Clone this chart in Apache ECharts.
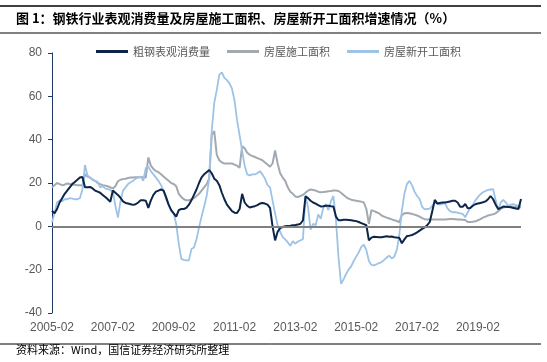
<!DOCTYPE html>
<html><head><meta charset="utf-8">
<script src="https://cdn.jsdelivr.net/npm/echarts@6/dist/echarts.min.js"></script>
<style>html,body{margin:0;padding:0;background:#fff}#c{width:547px;height:362px}</style>
</head><body><div id="c"></div><script>
// Monthly categories, 2005-02 .. 2020-07
const startYear = 2005, startMonth = 2, monthCount = 186;
const categories = [];
for (let i = 0; i < monthCount; i++) {
  const m = startMonth - 1 + i;
  const y = startYear + Math.floor(m / 12);
  const mm = (m % 12) + 1;
  categories.push(y + '-' + (mm < 10 ? '0' + mm : mm));
}
const seriesNames = ['粗钢表观消费量', '房屋施工面积', '房屋新开工面积'];
const yTicks = [-40, -20, 0, 20, 40, 60, 80];

const steel = [
7.2, 6, 8, 11, 13, 15, 16.5, 18, 19.5, 20.5,
21.5, 22.5, 22.8, 18, 18, 18.2, 17.5, 16.5, 16, 15.5,
14.5, 13.5, 12.5, 11.3, 16.5, 15.5, 14.5, 13.2, 11.5, 10.8,
10.5, 10.2, 9.9, 10.2, 11, 12, 12, 11.8, 8.5, 12,
14.5, 16, 16.5, 17, 16.5, 13.5, 10, 7.5, 6, 4.5,
7.5, 8, 8, 8.5, 10, 12, 14.5, 17, 20, 22.6,
24, 25, 26, 24.5, 22, 21, 19, 15.5, 12.5, 10,
8.5, 7, 6.3, 6.2, 8, 15, 11, 9.5, 8.7, 9,
9.3, 9.8, 10.5, 10.8, 10.5, 10, 8.5, 0, -6.5, -2.5,
-0.8, -0.3, 0, 0.2, 0.3, 0.5, 0.6, 0.8, 1.2, 2.8,
13.8, 13, 11.8, 11, 10.5, 9.8, 9.2, 9.3, 9.5, 9.5,
9.3, 9.2, 4.5, 2.8, 2.8, 3, 3, 2.9, 2.8, 2.6,
2.4, 2, 1.5, 1, 0.5, -6.5, -5.2, -4.8, -4.9, -5,
-5, -4.8, -4.6, -4.8, -4.7, -5, -5.2, -5.3, -7.8, -6,
-4.5, -4.3, -4, -3.5, -2.8, -2, -1.2, -0.5, 0.5, 2,
7, 12.2, 10.5, 10.8, 11, 11, 11.2, 11.5, 11.8, 11.8,
11, 9, 9, 10.3, 8.3, 8.5, 9.5, 10.2, 10.5, 10.8,
11.1, 11.5, 12.5, 14, 12.5, 10, 8, 8.5, 9.1, 9,
8.9, 8.8, 8.5, 8.2, 8, 12.6
];
const underConstruction = [
18, 19, 20, 19.5, 19, 19.2, 19.8, 19.5, 19.3, 19.2,
19, 19, 18.8, 24, 23, 22.5, 21.5, 21, 20, 19.5,
19, 18.8, 18.5, 18, 17.5, 18.5, 20.8, 21.5, 21.8, 22,
22.3, 22.5, 22.5, 22.7, 22.7, 22.8, 22.6, 22.5, 31.8, 28,
26.5, 25.5, 25, 24, 23, 22, 21, 20, 19.5, 18.5,
15, 13.5, 12.5, 12, 12, 12.5, 13, 14, 15, 16.5,
18, 19.5, 22, 42, 44, 33, 30.5, 29.5, 29, 29,
29, 29, 28.5, 28, 27, 37, 36, 34, 33, 32.5,
32, 31.5, 31, 30.5, 29.5, 28.5, 27.5, 29, 35, 29,
24.5, 22.5, 21, 18, 16, 15, 13.8, 13.5, 14, 14.5,
15.5, 16.5, 17, 16.8, 16.5, 16, 15.7, 15.8, 16, 16.2,
16.3, 16.5, 16.5, 16.3, 15.5, 14.5, 13.5, 12.8, 12.3, 12,
11.8, 11.6, 11.4, 11, 8, 1.1, 7.5, 7, 6.5, 6,
5, 4.5, 4, 3.6, 3.2, 2.8, 2.5, 1.8, 5.2, 6,
6.2, 6, 5.7, 5.4, 5, 4.5, 3.8, 3.3, 3.2, 3.1,
3.1, 3.2, 3.2, 3.1, 3.1, 3.2, 3.3, 3.4, 3.4, 3.3,
3.2, 3.1, 3, 2.9, 2, 2, 2.1, 2.3, 2.8, 3.3,
4, 4.5, 5, 5.3, 5.6, 6, 7, 8, 8.7, 8.9,
9, 9.1, 9, 8.9, 8.8, 8.8
];
const newStarts = [
1.9, 6, 11, 12, 11.5, 12.5, 12.5, 13, 12.8, 12.5,
12.5, 13, 17, 28.3, 23.5, 22.5, 21.5, 21, 20.5, 18,
18.5, 17.5, 17.2, 16.8, 16, 9.5, 4, 11.5, 16.5, 18,
19.5, 20.3, 21, 22, 22.5, 23, 21, 27, 27.5, 25.5,
24, 22.5, 21, 19, 16.5, 12.5, 10, 7.2, 6, 1,
-8, -15, -15.5, -15.7, -15.7, -10.5, -9.8, -6, -0.5, 4.5,
9, 14, 22, 44, 57, 63, 70, 71, 68.5, 67.5,
66, 63.5, 58, 49, 42, 35, 28, 24, 23.5, 24,
24, 24.5, 25.5, 24, 22, 19, 18, 12, 6, 0.5,
-2.5, -5, -6, -7.4, -9, -6.8, -8, -7, -6.5, -5.8,
14.2, 8.8, -1.5, 1.2, 0.5, 5.5, 3.5, 8.5, 10.3, 7.5,
11.5, 14, 3, -14, -26.5, -24.5, -22, -20, -18.5, -16,
-14, -12, -9.5, -8.5, -11, -16, -17.8, -18, -17.5, -17,
-16.5, -15.5, -14.5, -13.5, -14.8, -14, -11, -4, 7, 15,
19.5, 21, 19, 16, 14, 12.6, 9, 7.8, 8, 8.2,
9.5, 11, 10.5, 10, 10.3, 10.7, 8.3, 7, 6.5, 6.5,
6.3, 6, 5.7, 4.2, 6.5, 8.5, 10, 12, 13.5, 14.8,
15.7, 16.3, 16.8, 17, 17.2, 12, 7.5, 11, 12.2, 11,
9.5, 10, 10.3, 9.8, 9.3, 10
];

const chart = echarts.init(document.getElementById('c'), null, {renderer: 'canvas'});
const sans = '"Liberation Sans", Arial, sans-serif';
const cjk = '"Noto Sans CJK SC", sans-serif';
chart.setOption({
  animation: false,
  backgroundColor: '#ffffff',
  graphic: [
    {type: 'line', shape: {x1: 0, y1: 6, x2: 541, y2: 6}, style: {stroke: '#000', lineWidth: 1.5}},
    {type: 'line', shape: {x1: 0, y1: 33, x2: 541, y2: 33}, style: {stroke: '#000', lineWidth: 1}},
    {type: 'text', left: 16, top: 12, style: {text: '图 1：钢铁行业表观消费量及房屋施工面积、房屋新开工面积增速情况（%）', font: 'bold 13px "Noto Sans CJK SC", sans-serif', fill: '#000'}},
    {type: 'line', shape: {x1: 0, y1: 344, x2: 541, y2: 344}, style: {stroke: '#000', lineWidth: 1}},
    {type: 'text', left: 16, top: 344.5, style: {text: '资料来源：Wind，国信证券经济研究所整理', font: '11px "Noto Sans CJK SC", sans-serif', fill: '#000'}}
  ],
  legend: {
    top: 46, left: 96, padding: 0,
    icon: 'rect', itemWidth: 32, itemHeight: 3, itemGap: 17,
    textStyle: {fontSize: 11, color: '#595959', fontFamily: cjk},
    data: seriesNames
  },
  grid: {left: 52, right: 26, top: 53, bottom: 49},
  xAxis: {
    type: 'category', data: categories, boundaryGap: false,
    axisLine: {show: false, onZero: false},
    axisTick: {show: false},
    axisLabel: {interval: 23, color: '#595959', fontSize: 12, fontFamily: sans, margin: 9},
    splitLine: {show: false}
  },
  yAxis: {
    type: 'value', min: yTicks[0], max: yTicks[yTicks.length - 1], interval: 20,
    axisLine: {show: true, lineStyle: {color: '#1f3864', width: 1}},
    axisTick: {show: true, length: 4, lineStyle: {color: '#1f3864'}},
    axisLabel: {color: '#595959', fontSize: 12, fontFamily: sans, margin: 10},
    splitLine: {show: false}
  },
  series: [
    {name: seriesNames[0], type: 'line', data: steel, symbol: 'none', z: 4,
     lineStyle: {color: '#0c2549', width: 2}, itemStyle: {color: '#0c2549'},
     markLine: {silent: true, symbol: 'none', label: {show: false},
       lineStyle: {color: '#808080', width: 2, type: 'solid'}, data: [{yAxis: 0}]}},
    {name: seriesNames[1], type: 'line', data: underConstruction, symbol: 'none', z: 2,
     lineStyle: {color: '#a2a9b1', width: 2}, itemStyle: {color: '#a2a9b1'}},
    {name: seriesNames[2], type: 'line', data: newStarts, symbol: 'none', z: 3,
     lineStyle: {color: '#9dc3e6', width: 1.8}, itemStyle: {color: '#9dc3e6'}}
  ]
});
</script></body></html>
